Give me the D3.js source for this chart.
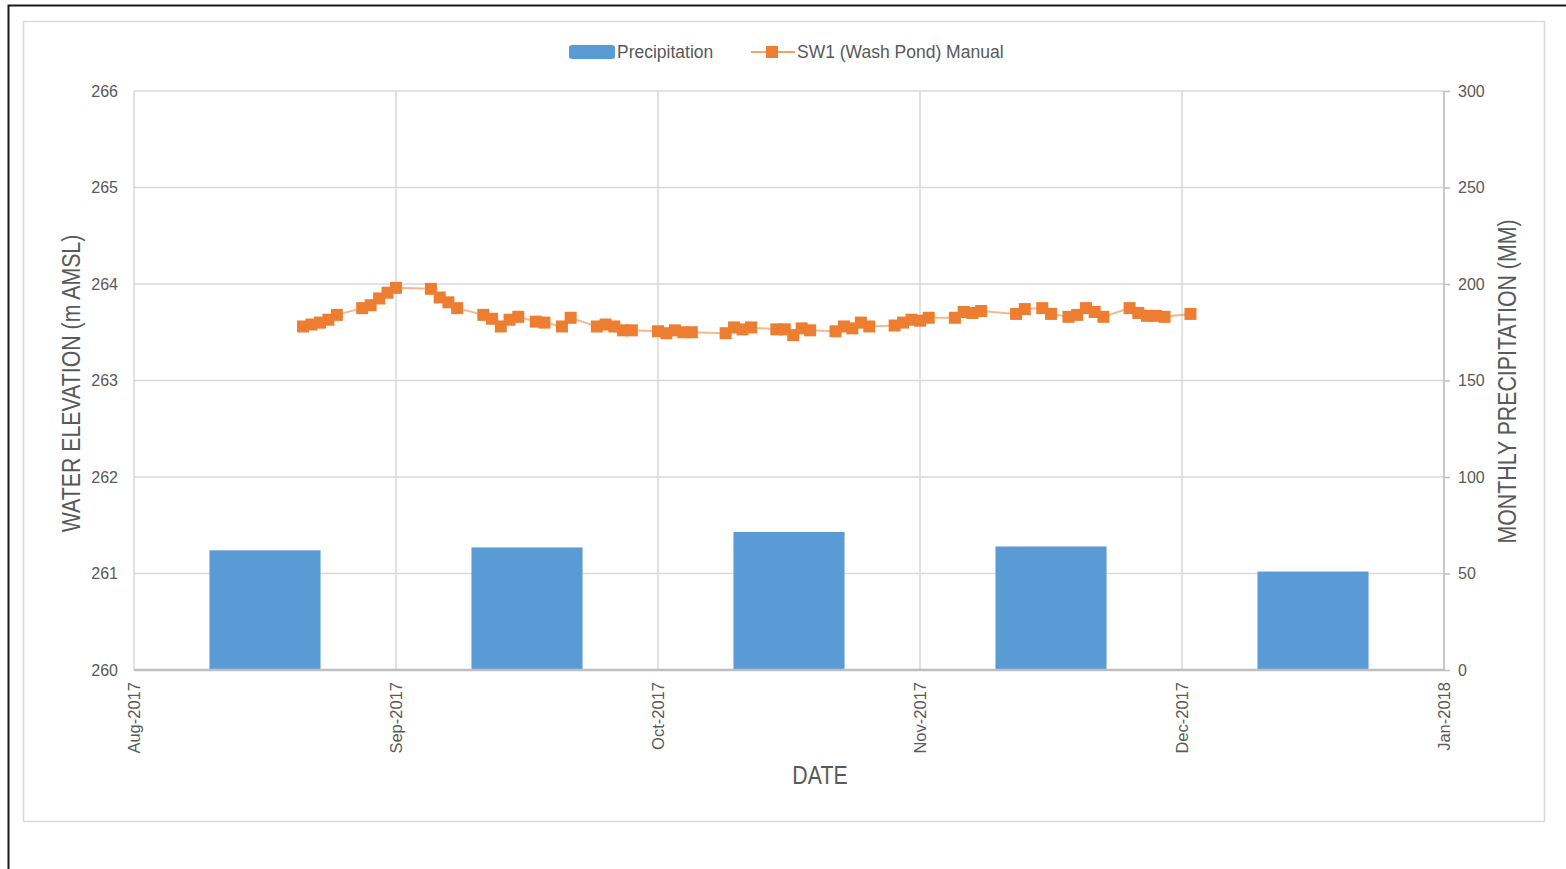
<!DOCTYPE html>
<html>
<head>
<meta charset="utf-8">
<script src="https://cdn.jsdelivr.net/npm/d3@7"></script>
<style>
  html, body { margin: 0; padding: 0; background: #fff; }
  svg { display: block; }
  .tick-label { font-family: "Liberation Sans", Arial, sans-serif; font-size: 16px; fill: #595959; }
  .xtick { font-size: 16.5px; }
  .title { font-family: "Liberation Sans", Arial, sans-serif; font-size: 26px; fill: #595959; }
  .legend { font-family: "Liberation Sans", Arial, sans-serif; font-size: 17.5px; fill: #595959; }
</style>
</head>
<body>
<svg id="chart" width="1566" height="869"></svg>
<script>
// ---------------- data ----------------
const monthTickLabels = ["Aug-2017", "Sep-2017", "Oct-2017", "Nov-2017", "Dec-2017", "Jan-2018"];
const precipMonths = ["Aug-2017", "Sep-2017", "Oct-2017", "Nov-2017", "Dec-2017"];
const precipitation = [62, 63.5, 71.5, 64, 51];

const elevationTicks = [260, 261, 262, 263, 264, 265, 266];
const precipTicks = [0, 50, 100, 150, 200, 250, 300];

const sw1Dates = [
  "2017-08-21","2017-08-22","2017-08-23","2017-08-24","2017-08-25",
  "2017-08-28","2017-08-29","2017-08-30","2017-08-31","2017-09-01",
  "2017-09-05","2017-09-06","2017-09-07","2017-09-08",
  "2017-09-11","2017-09-12","2017-09-13","2017-09-14","2017-09-15",
  "2017-09-17","2017-09-18","2017-09-20","2017-09-21",
  "2017-09-24","2017-09-25","2017-09-26","2017-09-27","2017-09-28",
  "2017-10-01","2017-10-02","2017-10-03","2017-10-04","2017-10-05",
  "2017-10-09","2017-10-10","2017-10-11","2017-10-12",
  "2017-10-15","2017-10-16","2017-10-17","2017-10-18","2017-10-19",
  "2017-10-22","2017-10-23","2017-10-24","2017-10-25","2017-10-26",
  "2017-10-29","2017-10-30","2017-10-31","2017-11-01","2017-11-02",
  "2017-11-05","2017-11-06","2017-11-07","2017-11-08",
  "2017-11-12","2017-11-13","2017-11-15","2017-11-16",
  "2017-11-18","2017-11-19","2017-11-20","2017-11-21","2017-11-22",
  "2017-11-25","2017-11-26","2017-11-27","2017-11-28","2017-11-29",
  "2017-12-02"
];
const sw1Elevation = [
  263.56, 263.58, 263.60, 263.63, 263.68,
  263.75, 263.78, 263.85, 263.91, 263.96,
  263.95, 263.86, 263.81, 263.75,
  263.68, 263.64, 263.56, 263.63, 263.66,
  263.61, 263.60, 263.56, 263.65,
  263.56, 263.58, 263.56, 263.52, 263.52,
  263.51, 263.49, 263.52, 263.50, 263.50,
  263.49, 263.55, 263.53, 263.55,
  263.53, 263.53, 263.47, 263.54, 263.52,
  263.51, 263.56, 263.54, 263.60, 263.56,
  263.57, 263.60, 263.63, 263.62, 263.65,
  263.65, 263.71, 263.70, 263.72,
  263.69, 263.74, 263.75, 263.69,
  263.66, 263.68, 263.75, 263.71, 263.66,
  263.75, 263.70, 263.67, 263.67, 263.66,
  263.69
];

// ---------------- layout ----------------
const plot = { left: 134, right: 1444, top: 91, bottom: 670 };
const colors = { bar: "#5B9BD5", line: "#ED7D31", grid: "#d9d9d9", axis: "#bfbfbf", text: "#595959" };

const svg = d3.select("#chart");

// frame
svg.append("path").attr("d", "M8.5,869 V5.5 H1566").attr("fill", "none").attr("stroke", "#1a1a1a").attr("stroke-width", 2);
svg.append("rect").attr("x", 23.5).attr("y", 21.5).attr("width", 1521).attr("height", 800)
  .attr("fill", "#fff").attr("stroke", "#d9d9d9").attr("stroke-width", 1.5);

// scales (months equally spaced, as in the reference)
const parse = d3.timeParse("%Y-%m-%d");
const monthPos = d => {
  const m = (d.getFullYear() - 2017) * 12 + d.getMonth() - 7;
  const dim = new Date(d.getFullYear(), d.getMonth() + 1, 0).getDate();
  return m + (d.getDate() - 1) / dim;
};
const x = d3.scaleLinear().domain([0, monthTickLabels.length - 1]).range([plot.left, plot.right]);
const yL = d3.scaleLinear().domain([260, 266]).range([plot.bottom, plot.top]);
const yR = d3.scaleLinear().domain([0, 300]).range([plot.bottom, plot.top]);

// gridlines
const grid = svg.append("g");
grid.selectAll("line.h").data(elevationTicks).join("line")
  .attr("x1", plot.left).attr("x2", plot.right)
  .attr("y1", d => yL(d)).attr("y2", d => yL(d))
  .attr("stroke", colors.grid).attr("stroke-width", 1.5);
grid.selectAll("line.v").data(d3.range(monthTickLabels.length)).join("line")
  .attr("x1", d => x(d)).attr("x2", d => x(d))
  .attr("y1", plot.top).attr("y2", plot.bottom)
  .attr("stroke", colors.grid).attr("stroke-width", 1.5);

// bars
const barW = (x(1) - x(0)) * 0.424;
svg.append("g").selectAll("rect").data(precipitation).join("rect")
  .attr("x", (d, i) => x(i + 0.5) - barW / 2)
  .attr("width", barW)
  .attr("y", d => yR(d))
  .attr("height", d => yR(0) - yR(d))
  .attr("fill", colors.bar);

// axes lines
svg.append("line").attr("x1", plot.left).attr("x2", plot.right).attr("y1", plot.bottom).attr("y2", plot.bottom)
  .attr("stroke", colors.axis).attr("stroke-width", 2.5);
svg.append("line").attr("x1", plot.right).attr("x2", plot.right).attr("y1", plot.top).attr("y2", plot.bottom)
  .attr("stroke", colors.axis).attr("stroke-width", 1.5);

// left axis
const leftAxis = d3.axisLeft(yL).tickValues(elevationTicks).tickSize(0).tickPadding(16).tickFormat(d3.format("d"));
const gL = svg.append("g").attr("transform", `translate(${plot.left},0)`).call(leftAxis);
gL.select(".domain").remove();
gL.selectAll("text").attr("class", "tick-label").attr("font-family", null).attr("font-size", null).attr("fill", null);

// right axis
const rightAxis = d3.axisRight(yR).tickValues(precipTicks).tickSize(6).tickPadding(8);
const gR = svg.append("g").attr("transform", `translate(${plot.right},0)`).call(rightAxis);
gR.select(".domain").remove();
gR.selectAll("line").attr("stroke", colors.axis).attr("stroke-width", 1.5);
gR.selectAll("text").attr("class", "tick-label").attr("font-family", null).attr("font-size", null).attr("fill", null);

// bottom axis
const bottomAxis = d3.axisBottom(x).tickValues(d3.range(monthTickLabels.length)).tickSize(0)
  .tickFormat(i => monthTickLabels[i]);
const gB = svg.append("g").attr("transform", `translate(0,${plot.bottom})`).call(bottomAxis);
gB.select(".domain").remove();
gB.selectAll("text").attr("class", "tick-label xtick").attr("font-family", null).attr("font-size", null).attr("fill", null)
  .attr("text-anchor", "end").attr("transform", "rotate(-90)")
  .attr("x", -12).attr("y", 0).attr("dy", "0.36em");

// line series
const pts = sw1Dates.map((s, i) => ({ p: monthPos(parse(s)), v: sw1Elevation[i] }));
const line = d3.line().x(d => x(d.p)).y(d => yL(d.v));
svg.append("path").datum(pts).attr("d", line).attr("fill", "none")
  .attr("stroke", colors.line).attr("stroke-opacity", 0.55).attr("stroke-width", 2);
const ms = 12;
svg.append("g").selectAll("rect").data(pts).join("rect")
  .attr("x", d => x(d.p) - ms / 2).attr("y", d => yL(d.v) - ms / 2)
  .attr("width", ms).attr("height", ms).attr("fill", colors.line);

// titles (narrow, as in the reference)
const narrow = 0.82;
svg.append("text").attr("class", "title").attr("text-anchor", "middle")
  .attr("transform", `translate(80,${(plot.top + plot.bottom) / 2 + 3}) rotate(-90) scale(${narrow},1)`)
  .text("WATER ELEVATION (m AMSL)");
svg.append("text").attr("class", "title").attr("text-anchor", "middle")
  .attr("transform", `translate(1516,${(plot.top + plot.bottom) / 2 + 1}) rotate(-90) scale(${narrow},1)`)
  .text("MONTHLY PRECIPITATION (MM)");
svg.append("text").attr("class", "title").attr("text-anchor", "middle")
  .attr("transform", `translate(820,784) scale(${narrow},1)`).text("DATE");

// legend
const lg = svg.append("g");
lg.append("rect").attr("x", 569).attr("y", 45).attr("width", 46).attr("height", 14).attr("rx", 3).attr("fill", colors.bar);
lg.append("text").attr("class", "legend").attr("x", 617).attr("y", 52).attr("dy", "0.35em").text("Precipitation");
lg.append("line").attr("x1", 751).attr("x2", 795).attr("y1", 52).attr("y2", 52)
  .attr("stroke", colors.line).attr("stroke-opacity", 0.7).attr("stroke-width", 2);
lg.append("rect").attr("x", 772 - ms / 2).attr("y", 52 - ms / 2).attr("width", ms).attr("height", ms).attr("fill", colors.line);
lg.append("text").attr("class", "legend").attr("x", 797).attr("y", 52).attr("dy", "0.35em").text("SW1 (Wash Pond) Manual");
</script>
</body>
</html>
